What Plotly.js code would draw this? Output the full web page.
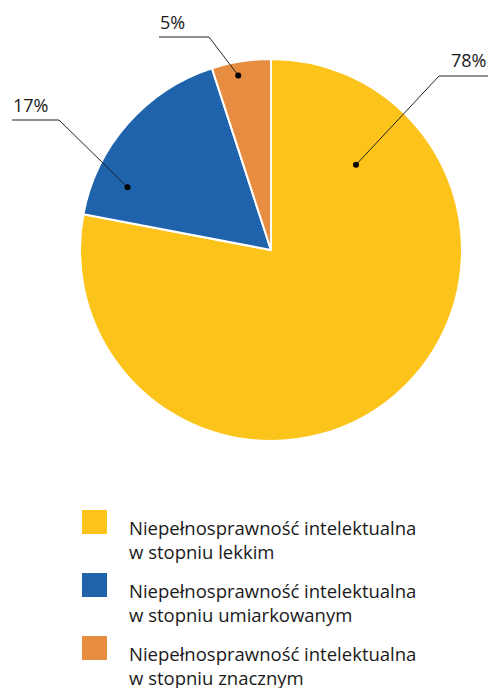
<!DOCTYPE html>
<html>
<head>
<meta charset="utf-8">
<script src="https://cdn.plot.ly/plotly-3.0.1.min.js"></script>
<style>html,body{margin:0;padding:0;background:#fff;}#chart{width:490px;height:688px;}</style>
</head>
<body>
<div id="chart"></div>
<script>
// ---- data ----
var categories = [
  "Niepełnosprawność intelektualna<br>w stopniu lekkim",
  "Niepełnosprawność intelektualna<br>w stopniu umiarkowanym",
  "Niepełnosprawność intelektualna<br>w stopniu znacznym"
];
var values = [78, 17, 5];
var valueLabels = ["78%", "17%", "5%"];
var colors = ["#FCC41B", "#1F63AD", "#E68D42"];

// ---- layout config (pixel geometry) ----
var W = 490, H = 688;
var CX = 271, CY = 250, R = 191;
var FONT = "Open Sans, Noto Sans, sans-serif";
var TEXT_COLOR = "#1a1a1a";
// where the leader dot sits: fraction along slice angle, fraction of radius
var callouts = [
  {frac: 0.16, rf: 0.63, elbow: [439, 76], end: [488, 76], tx: 488, ty: 60, anchor: "right"},
  {frac: 0.21, rf: 0.82, elbow: [59, 120], end: [12, 120], tx: 11, ty: 105, anchor: "left"},
  {frac: 0.41, rf: 0.93, elbow: [209, 37], end: [159, 37], tx: 158, ty: 22, anchor: "left"}
];
var legendCfg = {sqX: 82, sqW: 25, sqH: 24, firstTop: 510, step: 63, textX: 127};
var DOT_R = 3;

var total = values.reduce(function(a, b){ return a + b; }, 0);

var traces = [{
  type: "pie",
  values: values,
  labels: categories,
  marker: {colors: colors, line: {color: "#ffffff", width: 2}},
  sort: false,
  direction: "clockwise",
  rotation: 0,
  textinfo: "none",
  hoverinfo: "none",
  showlegend: false,
  domain: {x: [(CX - R) / W, (CX + R) / W], y: [1 - (CY + R) / H, 1 - (CY - R) / H]}
}];

var annotations = [];
var shapes = [];
var cum = 0;
values.forEach(function(v, i){
  var c = callouts[i];
  var theta = (cum + c.frac * v) / total * 2 * Math.PI;
  cum += v;
  var dx = CX + c.rf * R * Math.sin(theta);
  var dy = CY - c.rf * R * Math.cos(theta);
  shapes.push({
    type: "path", xref: "x", yref: "y", layer: "above",
    path: "M" + c.end[0] + "," + c.end[1] + " L" + c.elbow[0] + "," + c.elbow[1] + " L" + dx + "," + dy,
    line: {color: "#222", width: 1}
  });
  shapes.push({
    type: "circle", xref: "x", yref: "y", layer: "above",
    x0: dx - DOT_R, x1: dx + DOT_R, y0: dy - DOT_R, y1: dy + DOT_R,
    fillcolor: "#000", line: {width: 0}
  });
  annotations.push({
    x: c.tx, y: c.ty, xref: "x", yref: "y", text: valueLabels[i],
    showarrow: false, xanchor: c.anchor, yanchor: "middle",
    font: {family: FONT, size: 18, color: TEXT_COLOR}
  });
  // legend
  var top = legendCfg.firstTop + i * legendCfg.step;
  shapes.push({
    type: "rect", xref: "x", yref: "y",
    x0: legendCfg.sqX, x1: legendCfg.sqX + legendCfg.sqW,
    y0: top, y1: top + legendCfg.sqH,
    fillcolor: colors[i], line: {width: 0}
  });
  annotations.push({
    x: legendCfg.textX, y: top + 3, xref: "x", yref: "y", text: categories[i],
    showarrow: false, xanchor: "left", yanchor: "top", align: "left",
    font: {family: FONT, size: 18.5, color: TEXT_COLOR}
  });
});

var layout = {
  width: W, height: H,
  margin: {l: 0, r: 0, t: 0, b: 0},
  paper_bgcolor: "#fff", plot_bgcolor: "rgba(0,0,0,0)",
  xaxis: {range: [0, W], visible: false, fixedrange: true},
  yaxis: {range: [H, 0], visible: false, fixedrange: true},
  showlegend: false,
  annotations: annotations,
  shapes: shapes
};

Plotly.newPlot("chart", traces, layout, {displayModeBar: false, staticPlot: true});
</script>
</body>
</html>
